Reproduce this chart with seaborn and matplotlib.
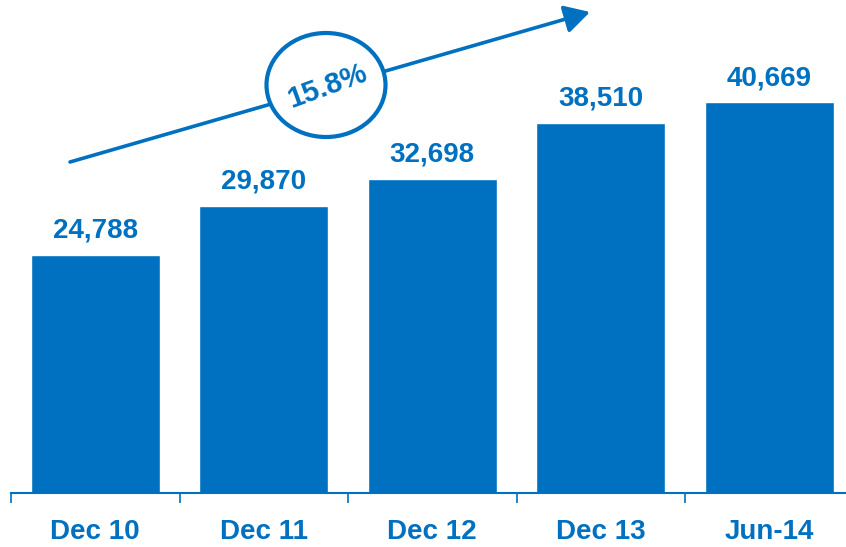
import matplotlib
matplotlib.use("Agg")
import matplotlib.pyplot as plt
import seaborn as sns
import pandas as pd
from matplotlib.patches import Ellipse, FancyArrowPatch

categories = ["Dec 10", "Dec 11", "Dec 12", "Dec 13", "Jun-14"]
values = [24788, 29870, 32698, 38510, 40669]
value_labels = ["24,788", "29,870", "32,698", "38,510", "40,669"]
cagr_label = "15.8%"

BLUE = "#0070C0"

sns.set_theme(style="white")
plt.rcParams["font.family"] = ["Liberation Sans", "DejaVu Sans"]

W, H = 846, 547
fig = plt.figure(figsize=(W / 100, H / 100), dpi=100)
ax = fig.add_axes([11 / W, 54 / H, 842.5 / W, 493 / H])

df = pd.DataFrame({"cat": categories, "val": values})
sns.barplot(data=df, x="cat", y="val", color=BLUE, saturation=1, width=0.765, ax=ax)

ax.set_xlim(-0.5, 4.5)
ax.set_ylim(0, 51300)
ax.set_xlabel("")
ax.set_ylabel("")
ax.set_yticks([])
for s in ["top", "right", "left"]:
    ax.spines[s].set_visible(False)
ax.spines["bottom"].set_color(BLUE)
ax.spines["bottom"].set_linewidth(1.5)

ax.set_xticks(range(len(categories)))
ax.set_xticklabels(categories, fontsize=20, fontweight="bold", color=BLUE)
ax.tick_params(axis="x", which="major", length=0, pad=18.5)
ax.set_xticks([i - 0.5 for i in range(len(categories))], minor=True)
ax.tick_params(axis="x", which="minor", bottom=True, length=7, width=1.2, color=BLUE)

ax.bar_label(ax.containers[0], labels=value_labels, padding=8,
             fontsize=20, fontweight="bold", color=BLUE)

# growth arrow
def fx(x):
    return x / W
def fy(y):
    return 1 - y / H

arrow = FancyArrowPatch((fx(70), fy(162)), (fx(590), fy(12)), transform=fig.transFigure,
                        arrowstyle="-|>,head_length=9,head_width=5", mutation_scale=1.7,
                        color=BLUE, lw=2.6, shrinkA=0, shrinkB=0)
fig.add_artist(arrow)
ell = Ellipse((fx(326), fy(85)), width=119 / W, height=104 / H, transform=fig.transFigure,
              facecolor="white", edgecolor=BLUE, lw=3)
fig.add_artist(ell)
fig.text(fx(327), fy(86), cagr_label, ha="center", va="center", rotation=20,
         fontsize=21, fontweight="bold", color=BLUE)

fig.savefig("out.png", dpi=100)
